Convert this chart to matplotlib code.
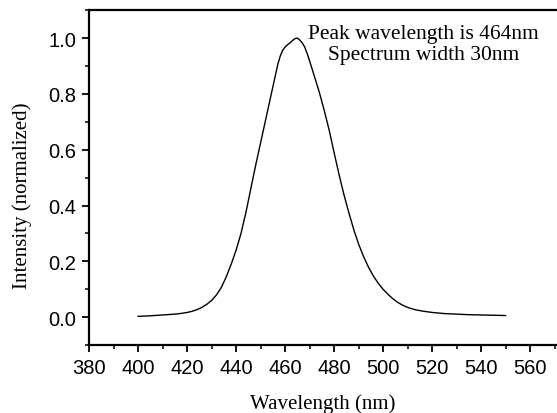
import numpy as np
import matplotlib.pyplot as plt
from matplotlib.ticker import MultipleLocator

# spectrum
wavelength = [400, 405, 410, 415, 418, 420, 422, 424, 426, 428, 430, 432, 434,
              436, 438, 440, 442, 444, 446, 448, 450, 452, 454, 456, 457, 458,
              459, 460, 461, 462, 463, 464, 465, 466, 467, 468, 469, 470, 471,
              472, 474, 476, 478, 480, 482, 484, 486, 488, 490, 492, 494, 496,
              498, 500, 502, 504, 506, 508, 510, 513, 516, 520, 525, 530, 535,
              540, 545, 550]
intensity = [0.003, 0.005, 0.008, 0.011, 0.014, 0.017, 0.021, 0.027, 0.035,
             0.046, 0.06, 0.08, 0.107, 0.145, 0.19, 0.24, 0.3, 0.375, 0.46,
             0.545, 0.625, 0.705, 0.785, 0.865, 0.905, 0.935, 0.956, 0.968,
             0.976, 0.983, 0.991, 0.998, 1.0, 0.993, 0.983, 0.968, 0.945,
             0.918, 0.89, 0.862, 0.805, 0.74, 0.67, 0.59, 0.512, 0.44, 0.375,
             0.315, 0.262, 0.218, 0.18, 0.148, 0.122, 0.1, 0.082, 0.066, 0.053,
             0.043, 0.035, 0.027, 0.022, 0.017, 0.013, 0.011, 0.009, 0.008,
             0.007, 0.006]

note = "Peak wavelength is 464nm\nSpectrum width 30nm"

fig = plt.figure(figsize=(5.57, 4.14), dpi=100)
ax = fig.add_axes([0.16, 0.164, 0.84, 0.809])

ax.plot(wavelength, intensity, color='black', lw=1.0)

ax.set_xlim(380, 571)
ax.set_ylim(-0.1, 1.1)
ax.xaxis.set_major_locator(MultipleLocator(20))
ax.xaxis.set_minor_locator(MultipleLocator(10))
ax.yaxis.set_major_locator(MultipleLocator(0.2))
ax.yaxis.set_minor_locator(MultipleLocator(0.1))
ax.set_yticks(np.arange(0, 1.01, 0.2))
ax.set_yticklabels(['0.0', '0.2', '0.4', '0.6', '0.8', '1.0'])

ax.spines['right'].set_visible(False)
for s in ['left', 'bottom', 'top']:
    ax.spines[s].set_linewidth(1.6)

ax.tick_params(which='major', direction='out', length=5, width=1.3,
               labelsize=14.5, pad=4, top=False, right=False)
ax.tick_params(which='minor', direction='out', length=3, width=1.1,
               top=False, right=False)
for lab in ax.get_xticklabels() + ax.get_yticklabels():
    lab.set_family('Liberation Sans')

ax.set_xlabel('Wavelength (nm)', family='Liberation Serif', fontsize=15)
ax.xaxis.set_label_coords(0.5, -0.145)
ax.set_ylabel('Intensity (normalized)', family='Liberation Serif', fontsize=15)
ax.yaxis.set_label_coords(-0.122, 0.45)

ax.text(0.715, 0.96, note, transform=ax.transAxes, ha='center', va='top',
        family='Liberation Serif', fontsize=15.5, linespacing=1.2)

plt.savefig('out.png', dpi=100)
